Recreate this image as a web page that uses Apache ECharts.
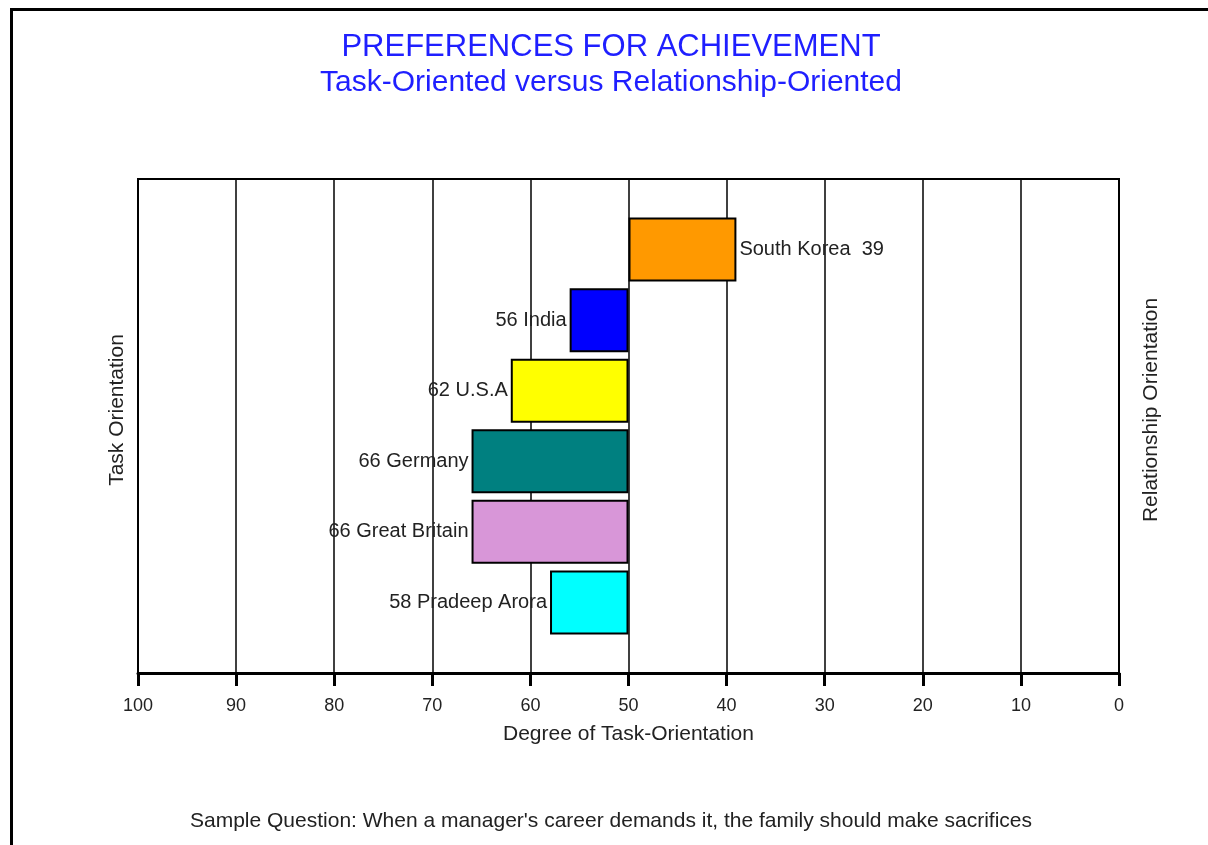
<!DOCTYPE html>
<html>
<head>
<meta charset="utf-8">
<script src="https://cdn.jsdelivr.net/npm/echarts@6/dist/echarts.min.js"></script>
<style>
  html, body { margin: 0; padding: 0; background: #fff; }
  #main { width: 1208px; height: 845px; }
</style>
</head>
<body>
<div id="main"></div>
<script>
// data
var countries = ['South Korea', 'India', 'U.S.A', 'Germany', 'Great Britain', 'Pradeep Arora'];
var scores = [39, 56, 62, 66, 66, 58];
var barColors = ['#ff9900', '#0000ff', '#ffff00', '#008080', '#d896d8', '#00ffff'];
var xTicks = [0, 10, 20, 30, 40, 50, 60, 70, 80, 90, 100];
var midPoint = 50;

var font = 'Liberation Sans, Arial, sans-serif';

// empty slot top and bottom so the bars sit one step inside the frame
var slots = [''].concat(countries).concat(['']);

// stacked bars: a hidden part up to the nearer end, then the visible part
var baseData = [null];
var barData = [null];
for (var i = 0; i < countries.length; i++) {
    var v = scores[i];
    baseData.push(Math.min(v, midPoint));
    barData.push({
        value: Math.abs(v - midPoint),
        itemStyle: { color: barColors[i] },
        label: {
            show: true,
            position: v > midPoint ? 'left' : 'right',
            distance: 3,
            formatter: v > midPoint ? (v + ' ' + countries[i]) : (countries[i] + '  ' + v)
        }
    });
}
baseData.push(null);
barData.push(null);

var myChart = echarts.init(document.getElementById('main'));

myChart.setOption({
    animation: false,
    backgroundColor: '#ffffff',
    grid: {
        left: 138,
        right: 89,
        top: 179,
        bottom: 172,
        show: true,
        borderColor: '#000',
        borderWidth: 2
    },
    xAxis: {
        type: 'value',
        inverse: true,
        min: xTicks[0],
        max: xTicks[xTicks.length - 1],
        interval: 10,
        name: 'Degree of Task-Orientation',
        nameLocation: 'middle',
        nameGap: 51,
        nameTextStyle: { fontFamily: font, fontSize: 21, color: '#222' },
        axisLine: { show: true, lineStyle: { color: '#000', width: 3 } },
        axisTick: { show: true, length: 13, lineStyle: { color: '#000', width: 3 } },
        axisLabel: { margin: 24, fontFamily: font, fontSize: 18, color: '#222' },
        splitLine: { show: true, lineStyle: { color: '#000', width: 1.5 } }
    },
    yAxis: [
        {
            type: 'category',
            inverse: true,
            boundaryGap: false,
            data: slots,
            axisLine: { show: true, lineStyle: { color: '#000', width: 2 } },
            axisTick: { show: false },
            axisLabel: { show: false },
            splitLine: { show: false }
        },
        {
            type: 'category',
            inverse: true,
            boundaryGap: false,
            position: 'right',
            data: slots,
            axisLine: { show: true, lineStyle: { color: '#000', width: 2 } },
            axisTick: { show: false },
            axisLabel: { show: false },
            splitLine: { show: false }
        }
    ],
    series: [
        {
            name: 'base',
            type: 'bar',
            stack: 'total',
            barWidth: 64,
            silent: true,
            itemStyle: { color: 'rgba(0,0,0,0)' },
            data: baseData
        },
        {
            name: 'score',
            type: 'bar',
            stack: 'total',
            barWidth: 64,
            itemStyle: { borderColor: '#000', borderWidth: 2 },
            label: { fontFamily: font, fontSize: 20, color: '#222' },
            data: barData
        }
    ],
    graphic: [
        // window frame, top and left only
        { type: 'line', shape: { x1: 10, y1: 9.5, x2: 1208, y2: 9.5 }, style: { stroke: '#000', lineWidth: 3 } },
        { type: 'line', shape: { x1: 11.5, y1: 8, x2: 11.5, y2: 845 }, style: { stroke: '#000', lineWidth: 3 } },
        {
            type: 'text', x: 611, y: 47,
            style: { text: 'PREFERENCES FOR ACHIEVEMENT', fill: '#1f1fff', font: '31px ' + font, textAlign: 'center', textVerticalAlign: 'middle' }
        },
        {
            type: 'text', x: 611, y: 83,
            style: { text: 'Task-Oriented versus Relationship-Oriented', fill: '#1f1fff', font: '30px ' + font, textAlign: 'center', textVerticalAlign: 'middle' }
        },
        {
            type: 'text', x: 117, y: 410, rotation: Math.PI / 2,
            style: { text: 'Task Orientation', fill: '#222', font: '21px ' + font, textAlign: 'center', textVerticalAlign: 'middle' }
        },
        {
            type: 'text', x: 1151, y: 410, rotation: Math.PI / 2,
            style: { text: 'Relationship Orientation', fill: '#222', font: '21px ' + font, textAlign: 'center', textVerticalAlign: 'middle' }
        },
        {
            type: 'text', x: 611, y: 821,
            style: { text: "Sample Question: When a manager's career demands it, the family should make sacrifices", fill: '#222', font: '21px ' + font, textAlign: 'center', textVerticalAlign: 'middle' }
        }
    ]
});
</script>
</body>
</html>
